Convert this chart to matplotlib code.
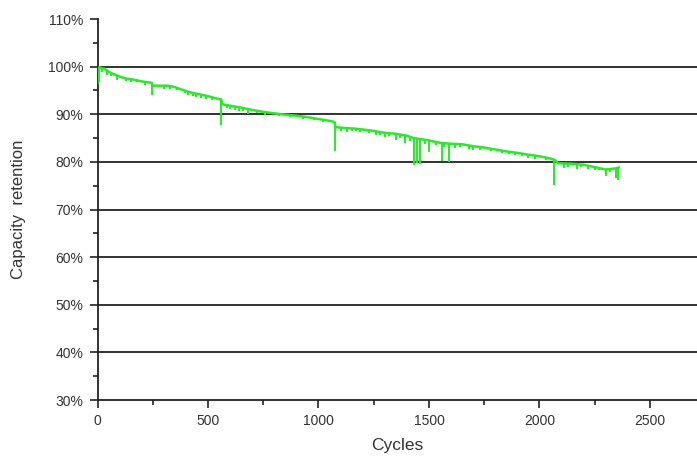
import matplotlib
matplotlib.use("Agg")
import matplotlib.pyplot as plt
from matplotlib.ticker import MultipleLocator, FuncFormatter

# Trend of capacity retention (%) vs cycle number
cycles = [0, 3, 8, 20, 30, 45, 60, 80, 100, 130, 160, 200, 245, 250, 290,
          320, 350, 380, 420, 460, 500, 540, 560, 565, 600, 650, 700, 750,
          800, 850, 900, 950, 1000, 1040, 1072, 1078, 1120, 1160, 1200, 1250,
          1300, 1350, 1400, 1430, 1460, 1500, 1550, 1600, 1650, 1700, 1750,
          1800, 1850, 1900, 1950, 2000, 2050, 2070, 2085, 2150, 2200, 2250,
          2300, 2340, 2360]
retention = [96.5, 99.0, 99.9, 99.6, 99.6, 99.1, 98.7, 98.3, 97.9, 97.5,
             97.3, 96.9, 96.6, 96.0, 96.0, 96.0, 95.7, 95.2, 94.6, 94.2,
             93.8, 93.3, 93.1, 92.1, 91.8, 91.4, 90.9, 90.5, 90.2, 89.9,
             89.7, 89.4, 89.0, 88.7, 88.4, 87.3, 87.1, 87.0, 86.8, 86.5,
             86.1, 85.9, 85.5, 85.0, 84.8, 84.5, 84.0, 83.8, 83.7, 83.3,
             83.0, 82.6, 82.2, 81.9, 81.5, 81.2, 80.7, 80.4, 79.7, 79.6,
             79.4, 78.9, 78.4, 78.6, 78.8]

# Downward spikes: cycle, top and bottom of each spike (%)
dip_cycles = [5, 20, 45, 60, 90, 130, 150, 180, 215, 248, 300, 330, 360, 395,
              410, 430, 445, 470, 490, 520, 560, 585, 600, 620, 640, 660, 680,
              720, 760, 820, 870, 930, 980, 1020, 1075, 1100, 1130, 1150,
              1170, 1190, 1230, 1260, 1280, 1300, 1320, 1350, 1370, 1390,
              1415, 1433, 1447, 1460, 1480, 1500, 1530, 1560, 1570, 1590,
              1620, 1640, 1680, 1700, 1730, 1780, 1830, 1860, 1890, 1920,
              1950, 1980, 2030, 2068, 2110, 2130, 2170, 2190, 2220, 2250,
              2270, 2300, 2320, 2345, 2355]
dip_top = [99.5, 99.6, 99.1, 98.7, 98.1, 97.5, 97.4, 97.1, 96.8, 96.6, 96.0,
           96.0, 95.6, 95.0, 94.8, 94.5, 94.3, 94.1, 93.9, 93.6, 93.1, 91.9,
           91.8, 91.7, 91.5, 91.3, 91.1, 90.7, 90.4, 90.1, 89.8, 89.5, 89.2,
           88.9, 88.4, 87.2, 87.1, 87.0, 87.0, 86.9, 86.6, 86.4, 86.3, 86.1,
           86.0, 85.9, 85.7, 85.6, 85.3, 85.0, 84.9, 84.8, 84.6, 84.5, 84.2,
           84.0, 83.9, 83.8, 83.8, 83.7, 83.5, 83.3, 83.1, 82.8, 82.4, 82.2,
           82.0, 81.8, 81.5, 81.3, 80.9, 80.4, 79.6, 79.6, 79.5, 79.4, 79.2,
           78.9, 78.7, 78.4, 78.5, 78.6, 78.7]
dip_bottom = [96.8, 98.8, 98.3, 98.0, 97.2, 97.0, 96.8, 96.7, 96.2, 94.0,
              95.3, 95.2, 95.0, 94.5, 94.0, 93.8, 93.6, 93.5, 93.3, 93.0,
              87.7, 91.3, 91.0, 90.9, 90.6, 90.6, 90.0, 90.2, 89.8, 89.7,
              89.4, 89.0, 88.7, 88.4, 82.3, 86.5, 86.2, 86.5, 86.4, 86.3,
              86.0, 85.6, 85.6, 85.2, 85.4, 84.6, 85.0, 84.0, 84.4, 79.3,
              79.8, 79.6, 83.8, 82.0, 83.5, 80.2, 83.2, 79.9, 82.9, 83.1,
              82.8, 82.6, 82.5, 82.2, 81.8, 81.6, 81.4, 81.2, 80.9, 80.7,
              80.5, 75.2, 78.8, 79.0, 78.6, 78.9, 78.6, 78.3, 78.3, 77.0,
              77.8, 76.6, 76.2]

y_ticks = [30, 40, 50, 60, 70, 80, 90, 100, 110]
x_ticks = [0, 500, 1000, 1500, 2000, 2500]

plt.rcParams["font.family"] = ["Liberation Sans", "DejaVu Sans"]

fig = plt.figure(figsize=(6.97, 4.57), dpi=100)
ax = fig.add_axes([0.1399, 0.1247, 0.8601, 0.8337])

# horizontal reference lines
for y in y_ticks[1:-1]:
    ax.axhline(y, color="#222222", lw=1.3, zorder=1)

green = "#22ee22"
ax.plot(cycles, retention, color=green, lw=1.8, zorder=3)
ax.vlines(dip_cycles, dip_bottom, dip_top, color=green, lw=1.4, zorder=3)

ax.set_xlim(0, 2713)
ax.set_ylim(30, 110)
ax.set_xticks(x_ticks)
ax.set_yticks(y_ticks)
ax.xaxis.set_minor_locator(MultipleLocator(250))
ax.yaxis.set_minor_locator(MultipleLocator(5))
ax.yaxis.set_major_formatter(FuncFormatter(lambda v, p: f"{int(v)}%"))

for s in ["top", "right"]:
    ax.spines[s].set_visible(False)
for s in ["left", "bottom"]:
    ax.spines[s].set_linewidth(1.3)
    ax.spines[s].set_color("#222222")

ax.tick_params(axis="both", which="major", direction="out", length=6,
               width=1.2, pad=4, labelsize=10, labelcolor="#333333",
               color="#222222")
ax.tick_params(axis="both", which="minor", direction="out", length=3.5,
               width=1.2, color="#222222")

ax.set_xlabel("Cycles", fontsize=12.5, color="#333333", labelpad=7)
ax.set_ylabel("Capacity  retention", fontsize=12, color="#333333", labelpad=16)

fig.savefig("out.png", dpi=100)
